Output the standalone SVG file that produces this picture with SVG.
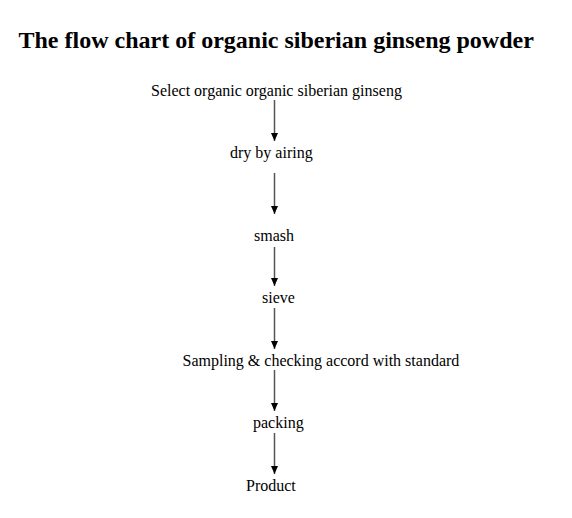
<svg xmlns="http://www.w3.org/2000/svg" width="572" height="518" viewBox="0 0 572 518">
<style>
.t{font-family:"Liberation Serif","Times New Roman",serif;font-size:16px;fill:#000}
.title{font-family:"Liberation Serif","Times New Roman",serif;font-size:24px;font-weight:bold;fill:#000}
.c{stroke:#555;stroke-width:1.5;fill:none}
</style>
<defs>
<marker id="ah" viewBox="0 0 8 8" refX="8" refY="4" markerWidth="8" markerHeight="8" markerUnits="userSpaceOnUse" orient="auto">
<path d="M0,0.5 L8,4 L0,7.5 z" fill="#000"/>
</marker>
</defs>
<rect width="572" height="518" fill="#fff"/>
<text class="title" x="18.5" y="48">The flow chart of organic siberian ginseng powder</text>
<g id="n1"><text class="t" x="151" y="96">Select organic organic siberian ginseng</text></g>
<g id="n2"><text class="t" x="230" y="158">dry by airing</text></g>
<g id="n3"><text class="t" x="254" y="241">smash</text></g>
<g id="n4"><text class="t" x="262" y="303">sieve</text></g>
<g id="n5"><text class="t" x="182.5" y="366">Sampling &amp; checking accord with standard</text></g>
<g id="n6"><text class="t" x="253" y="428">packing</text></g>
<g id="n7"><text class="t" x="246" y="491">Product</text></g>
<g id="connectors">
<line class="c" x1="274.5" y1="100" x2="274.5" y2="141" marker-end="url(#ah)"/>
<line class="c" x1="274.5" y1="173" x2="274.5" y2="214" marker-end="url(#ah)"/>
<line class="c" x1="274.5" y1="247" x2="274.5" y2="286" marker-end="url(#ah)"/>
<line class="c" x1="274.5" y1="308" x2="274.5" y2="349" marker-end="url(#ah)"/>
<line class="c" x1="274.5" y1="370" x2="274.5" y2="411" marker-end="url(#ah)"/>
<line class="c" x1="274.5" y1="433" x2="274.5" y2="474" marker-end="url(#ah)"/>
</g>
</svg>
